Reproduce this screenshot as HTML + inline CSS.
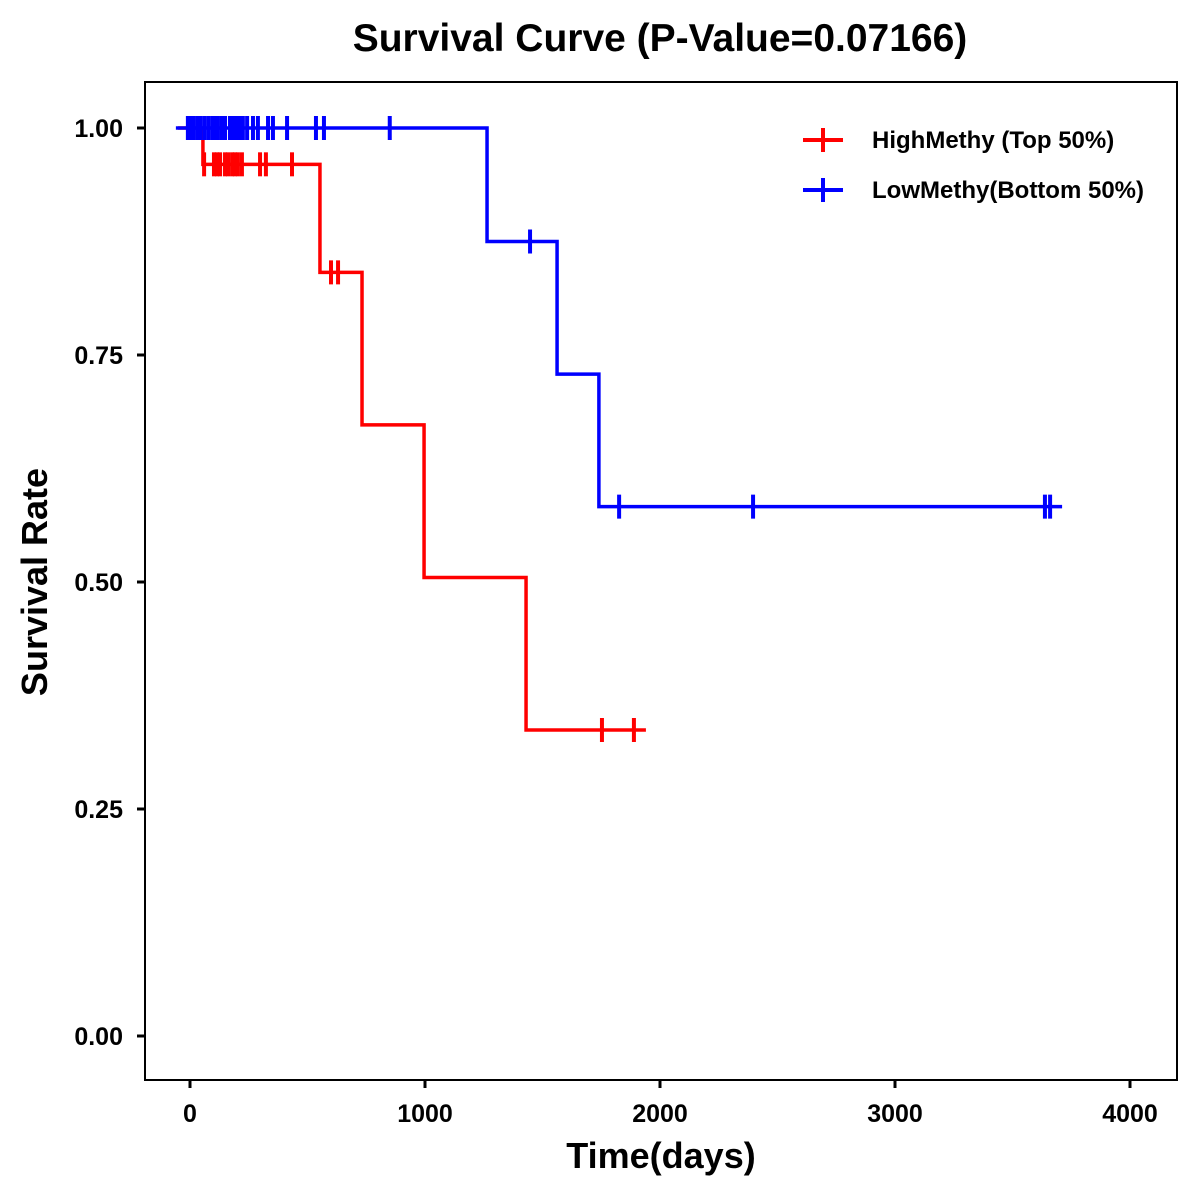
<!DOCTYPE html>
<html><head><meta charset="utf-8"><style>
body{margin:0;background:#fff;}
svg{display:block;font-family:"Liberation Sans",Arial,sans-serif;font-weight:bold;}
</style></head><body>
<svg id="chart" width="1200" height="1200" viewBox="0 0 1200 1200">
<text x="660" y="51" text-anchor="middle" font-size="39">Survival Curve (P-Value=0.07166)</text>
<rect x="145" y="82" width="1032" height="998" fill="none" stroke="#000" stroke-width="2"/>
<g id="axes"></g>
<g id="series"></g>
<text x="661" y="1168" text-anchor="middle" font-size="36">Time(days)</text>
<text transform="translate(47,582) rotate(-90)" text-anchor="middle" font-size="36">Survival Rate</text>
<g>
<g>
<line x1="803" y1="140" x2="843" y2="140" stroke="#f00" stroke-width="4"/><line x1="823" y1="128" x2="823" y2="152" stroke="#f00" stroke-width="4"/>
<text x="872" y="148" font-size="24">HighMethy (Top 50%)</text></g>
<g>
<line x1="803" y1="190" x2="843" y2="190" stroke="#00f" stroke-width="4"/><line x1="823" y1="178" x2="823" y2="202" stroke="#00f" stroke-width="4"/>
<text x="872" y="198" font-size="24">LowMethy(Bottom 50%)</text></g>
</g>
</svg>
<script>
const xTicks=[0,1000,2000,3000,4000];
const yTicks=[0,0.25,0.5,0.75,1.0];
const yTickLabels=["0.00","0.25","0.50","0.75","1.00"];
const highTimes=[0,55,553,732,996,1430];
const highSurv=[1.0,0.96,0.841,0.673,0.505,0.337];
const highEnd=1889;
const highCensor=[60,102,115,128,149,162,179,191,204,221,298,323,434,600,630,1753,1889];
const lowTimes=[0,1264,1562,1740];
const lowSurv=[1.0,0.875,0.729,0.583];
const lowEnd=3660;
const lowCensor=[-9,0,13,30,43,60,77,94,106,119,136,149,170,183,200,213,225,243,268,289,332,353,413,536,570,850,1447,1826,2396,3638,3660];
const NS='http://www.w3.org/2000/svg';
const xs=d=>190+d*0.235;
const ys=v=>1036-v*908;
function mk(tag,attrs,parent){const e=document.createElementNS(NS,tag);for(const k in attrs)e.setAttribute(k,attrs[k]);parent.appendChild(e);return e;}
const axes=document.getElementById('axes');
xTicks.forEach(t=>{
 const l=mk('line',{x1:xs(t),x2:xs(t),y1:1080,y2:1088,stroke:'#000','stroke-width':3},axes);
 
 
 const tx=mk('text',{x:xs(t),y:1122,'text-anchor':'middle','font-size':25},axes);
 tx.textContent=String(t);
 
 
});
yTicks.forEach((t,i)=>{
 const l=mk('line',{x1:137,x2:145,y1:ys(t),y2:ys(t),stroke:'#000','stroke-width':3},axes);
 
 
 const tx=mk('text',{x:123,y:ys(t)+9,'text-anchor':'end','font-size':25},axes);
 tx.textContent=yTickLabels[i];
 
 
});
const series=document.getElementById('series');
function draw(times,surv,end,censor,color,name){
 const g=mk('g',{},series);
 
 
 let start=Math.min(times[0],censor[0]);
 let d='M'+(xs(start)-12)+' '+ys(surv[0]);
 for(let i=1;i<times.length;i++){d+=' H'+xs(times[i])+' V'+ys(surv[i]);}
 d+=' H'+(xs(end)+12);
 const p=mk('path',{d:d,fill:'none',stroke:color,'stroke-width':3.5},g);
 
 
 censor.forEach(c=>{
  let v=surv[0];
  for(let i=0;i<times.length;i++) if(times[i]<=c) v=surv[i];
  const m=mk('line',{x1:xs(c),x2:xs(c),y1:ys(v)-12,y2:ys(v)+12,stroke:color,'stroke-width':4},g);
  
  
 });
}
draw(highTimes,highSurv,highEnd,highCensor,'#f00','high-methy-curve');
draw(lowTimes,lowSurv,lowEnd,lowCensor,'#00f','low-methy-curve');
</script>
</body></html>
